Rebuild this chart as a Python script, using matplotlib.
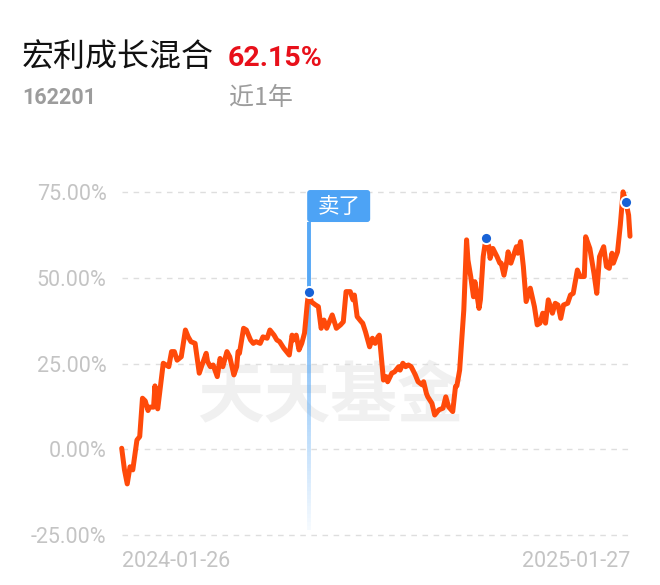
import numpy as np
import matplotlib.pyplot as plt
from matplotlib.collections import LineCollection
from matplotlib.patches import FancyBboxPatch
from matplotlib.transforms import IdentityTransform

plt.rcParams["font.family"] = ["Roboto", "Noto Sans CJK SC", "DejaVu Sans"]

fund_name = "宏利成长混合"
fund_code = "162201"
period_label = "近1年"
period_return = "62.15%"
date_labels = ["2024-01-26", "2025-01-27"]

# days since 2024-01-26, cumulative return in %
days = [0, 2, 4, 6, 8, 11, 13, 15, 17, 19, 20, 23, 24, 25, 26, 30, 34, 36, 38, 40,
        43, 46, 48, 50, 53, 56, 58, 61, 62, 64, 66, 69, 71, 73, 76, 78, 81, 83, 84, 85,
        88, 90, 93, 95, 97, 100, 102, 105, 107, 110, 112, 114, 117, 119, 121, 123, 124, 126, 128, 130,
        132, 134, 135, 137, 140, 142, 144, 146, 148, 152, 155, 158, 160, 162, 165, 167, 168, 170, 173, 174,
        176, 179, 181, 183, 185, 186, 189, 191, 192, 195, 197, 200, 201, 203, 205, 207, 209, 212, 214, 217,
        218, 220, 221, 224, 226, 229, 232, 234, 236, 239, 241, 242, 244, 247, 249, 250, 252, 254, 255, 258,
        259, 261, 263, 265, 266, 268, 271, 273, 274, 276, 278, 279, 281, 283, 285, 286, 288, 290, 292, 295,
        298, 300, 302, 304, 306, 308, 311, 313, 315, 317, 319, 322, 324, 326, 329, 331, 334, 335, 338, 341,
        343, 345, 348, 350, 352, 354, 355, 358, 360, 362, 364, 366, 367]
returns = [0.3, -6.0, -10.1, -5.1, -6.0, 2.7, 3.7, 14.9, 14.1, 11.3, 12.3, 12.3, 18.5, 13.5, 11.8, 25.1, 24.1, 28.5, 28.5, 26.0,
           27.0, 34.8, 32.8, 31.4, 30.9, 22.2, 24.6, 28.0, 25.6, 24.1, 24.6, 21.2, 26.5, 24.1, 28.5, 27.0, 21.7, 24.1, 28.5, 28.0,
           35.3, 34.8, 31.9, 30.9, 31.4, 30.9, 32.8, 32.4, 34.8, 33.3, 31.9, 31.4, 29.5, 28.5, 27.5, 33.3, 31.9, 33.3, 29.0, 30.9,
           33.9, 42.6, 46.0, 43.0, 42.1, 41.6, 35.3, 37.7, 35.3, 39.2, 35.3, 36.3, 37.2, 46.0, 46.0, 43.6, 45.0, 38.7, 37.2, 36.8,
           34.3, 29.9, 32.4, 30.9, 32.8, 33.3, 20.2, 21.2, 19.7, 22.2, 22.6, 24.1, 23.1, 25.1, 24.1, 24.6, 24.1, 21.7, 19.7, 18.8,
           19.7, 16.3, 15.3, 13.4, 10.0, 11.5, 12.0, 15.3, 12.4, 11.0, 18.3, 18.5, 23.1, 40.6, 61.1, 55.2, 50.4, 44.5, 48.9, 41.1,
           43.6, 56.2, 61.6, 59.3, 55.7, 58.6, 56.2, 54.3, 54.3, 50.8, 54.7, 57.6, 54.3, 56.7, 59.1, 57.2, 60.6, 53.3, 43.1, 47.0,
           41.6, 36.3, 36.8, 39.7, 36.8, 43.6, 39.7, 42.6, 42.1, 38.2, 42.1, 42.6, 45.0, 45.5, 52.3, 50.4, 50.4, 62.0, 58.6, 51.3,
           45.5, 56.2, 59.1, 53.3, 52.8, 57.2, 54.3, 57.6, 65.4, 75.1, 72.2, 68.3, 62.15]
marker_days = [135, 263, 364]
sell_day = 135
yticks = [-25, 0, 25, 50, 75]

fig = plt.figure(figsize=(6.6, 5.85), dpi=100, facecolor="white")
ax = fig.add_axes([121.7 / 660, 1 - 540 / 585, 508.3 / 660, 360 / 585])
ax.set_xlim(days[0], days[-1])
ax.set_ylim(-26.46, 78.56)
for s in ax.spines.values():
    s.set_visible(False)

ax.set_yticks(yticks)
ax.set_yticklabels([f"{v:.2f}%" for v in yticks])
ax.grid(axis="y", linestyle=(0, (4, 4)), color="#dedede", lw=1)
ax.set_axisbelow(True)
ax.tick_params(axis="y", length=0, pad=11, labelsize=15.5, labelcolor="#c4c4c4")
ax.set_xticks([days[0], days[-1]])
ax.set_xticklabels(date_labels)
ax.tick_params(axis="x", length=0, pad=8, labelsize=15.5, labelcolor="#c4c4c4")
xl = ax.get_xticklabels()
xl[0].set_ha("left")
xl[1].set_ha("right")

# watermark
ax.text(0.41, 0.395, "天天基金", transform=ax.transAxes, fontsize=48, fontweight="bold",
        color="#f0f0f0", ha="center", va="center", family=["Noto Sans CJK SC"], zorder=0)

# sell marker line fading downward
ys = np.linspace(66.3, -23.5, 80)
segs = [[(sell_day, ys[i]), (sell_day, ys[i + 1])] for i in range(len(ys) - 1)]
alphas = np.concatenate([np.full(18, 0.95), np.linspace(0.85, 0.05, len(segs) - 18)])
cols = [(0.30, 0.64, 0.96, a) for a in alphas]
ax.add_collection(LineCollection(segs, colors=cols, linewidths=2.8, zorder=1))

ax.plot(days, returns, color="#ff4a0a", lw=3.6, solid_joinstyle="round",
        solid_capstyle="round", zorder=2, clip_on=False)

mvals = [returns[days.index(d)] for d in marker_days]
ax.plot(marker_days, mvals, "o", ms=8, color="#1862d6", mec="white", mew=1.4,
        zorder=3, clip_on=False)

# sell tag
fig.canvas.draw()
px, py = ax.transData.transform((sell_day, 66.3))
tag = FancyBboxPatch((px - 1.5, py), 63, 32, boxstyle="round,pad=0,rounding_size=3",
                     transform=IdentityTransform(), facecolor="#4da3f5", edgecolor="none")
fig.add_artist(tag)
fig.text(px - 1.5 + 31.5, py + 15, "卖了", transform=IdentityTransform(), color="white",
         fontsize=15.5, ha="center", va="center", family=["Noto Sans CJK SC"])

# header
fig.text(22 / 660, 1 - 57 / 585, fund_name, fontsize=23, color="#111111",
         va="center", ha="left", family=["Noto Sans CJK SC"])
fig.text(228 / 660, 1 - 58 / 585, period_return, fontsize=20.5, color="#e8101a",
         fontweight="bold", va="center", ha="left")
fig.text(22 / 660, 1 - 98 / 585, fund_code, fontsize=15.5, color="#9c9c9c",
         fontweight="bold", va="center", ha="left")
fig.text(229 / 660, 1 - 98 / 585, period_label, fontsize=18, color="#9c9c9c",
         va="center", ha="left", family=["Noto Sans CJK SC", "Roboto"])

fig.savefig("out.png", dpi=100)
